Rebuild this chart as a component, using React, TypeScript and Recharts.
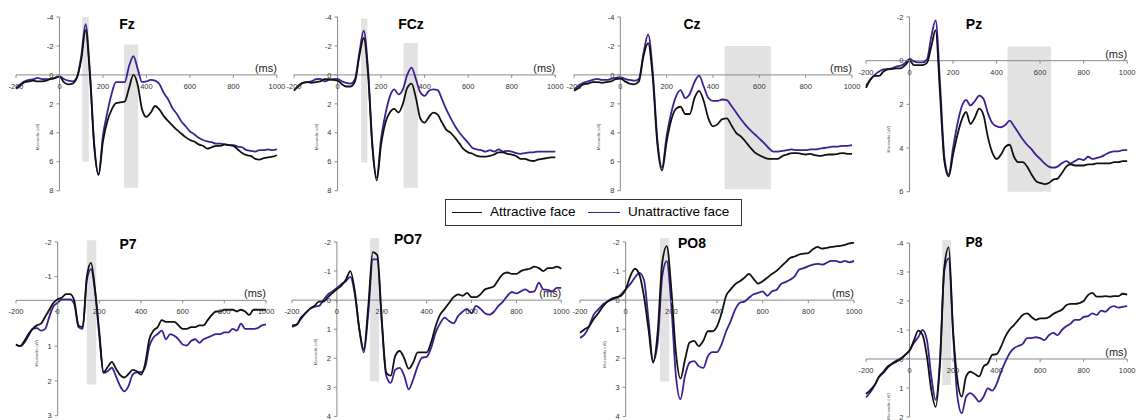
import React from 'react';
import { LineChart, Line, XAxis, YAxis, ReferenceArea, ReferenceLine } from 'recharts';

// time axis (ms), shared by every panel
const ms = [
  -200, -180, -160, -140, -120, -100, -80, -60, -40, -20,
  0, 20, 40, 60, 80, 100, 120, 140, 160, 180,
  200, 220, 240, 260, 280, 300, 320, 340, 360, 380,
  400, 420, 440, 460, 480, 500, 520, 540, 560, 580,
  600, 620, 640, 660, 680, 700, 720, 740, 760, 780,
  800, 820, 840, 860, 880, 900, 920, 940, 960, 980, 1000,
];

const xTicks = [-200, 0, 200, 400, 600, 800, 1000];

// amplitudes in microvolts, one value per ms step
const fzAttractive = [
  0.95, 0.75, 0.5, 0.45, 0.4, 0.45, 0.45, 0.4, 0.28, 0.2,
  0.1, 0.5, 0.65, 0.6, 0.2, -1.05, -3.1, 0.0, 5.0, 6.9,
  4.6, 3.2, 2.4, 1.95, 1.9, 1.85, 0.9, 0.0, 0.7, 2.4,
  2.9, 2.6, 2.15, 2.4, 2.85, 3.2, 3.5, 3.8, 4.05, 4.3,
  4.5, 4.6, 4.8, 4.9, 5.1, 5.0, 4.9, 4.9, 4.8, 4.85,
  4.9, 5.15, 5.4, 5.55, 5.6, 5.8, 5.85, 5.75, 5.7, 5.65, 5.55,
];
const fzUnattractive = [
  0.9, 0.65, 0.45, 0.35, 0.3, 0.2, 0.3, 0.3, 0.28, 0.22,
  0.1, 0.28, 0.4, 0.45, 0.2, -1.3, -3.5, -0.2, 4.8, 6.9,
  4.2, 2.6, 1.3, 0.5, 0.5, 0.5, -0.6, -1.3, -0.4, 0.5,
  0.45, 0.35, 0.4, 0.65, 1.25, 1.7, 2.3, 2.7, 3.2, 3.55,
  3.9, 4.1, 4.35, 4.5, 4.6, 4.65, 4.75, 4.75, 4.8, 4.85,
  4.85, 4.95, 5.0, 5.2, 5.25, 5.3, 5.2, 5.2, 5.15, 5.2, 5.15,
];

const fczAttractive = [
  1.05, 0.8, 0.55, 0.5, 0.55, 0.5, 0.45, 0.3, 0.3, 0.35,
  0.4, 0.65, 0.8, 0.8, 0.45, -1.3, -2.55, -0.1, 5.0, 7.3,
  4.8, 3.3, 2.6, 2.35, 2.6, 2.0, 0.9, 0.6, 1.6, 3.0,
  3.3, 2.9, 2.6, 2.75, 3.3, 3.8, 4.0, 4.35, 4.75, 5.15,
  5.35, 5.45, 5.6, 5.65, 5.65, 5.6, 5.5, 5.35, 5.35, 5.45,
  5.5, 5.6, 5.8, 5.8, 5.9, 5.95, 5.85, 5.8, 5.75, 5.7, 5.7,
];
const fczUnattractive = [
  1.1, 0.75, 0.55, 0.5, 0.45, 0.3, 0.28, 0.45, 0.35, 0.3,
  0.28, 0.45, 0.55, 0.6, 0.3, -1.5, -3.05, -0.4, 4.8, 7.1,
  4.4, 2.7, 1.5, 1.0, 1.35, 1.0, 0.0, -0.5, 0.3, 1.2,
  1.45, 1.1, 1.0, 1.05, 1.7, 2.4, 3.0, 3.55, 4.0, 4.35,
  4.7, 5.05, 5.15, 5.2, 5.3, 5.2, 5.3, 5.15, 5.3, 5.25,
  5.3, 5.4, 5.45, 5.4, 5.35, 5.35, 5.3, 5.3, 5.3, 5.3, 5.3,
];

const czAttractive = [
  1.1, 0.9, 0.65, 0.6, 0.5, 0.5, 0.55, 0.5, 0.45, 0.3,
  0.25, 0.45, 0.6, 0.65, 0.45, -1.3, -2.2, 0.2, 4.8, 6.6,
  4.6, 3.1, 2.35, 2.2, 2.7, 2.7, 1.6, 1.1, 1.8, 3.0,
  3.55, 3.4, 3.05, 3.0, 3.5, 4.0, 4.25, 4.6, 5.0, 5.35,
  5.55, 5.7, 5.8, 5.8, 5.8, 5.6, 5.5, 5.4, 5.4, 5.45,
  5.5, 5.45, 5.55, 5.6, 5.55, 5.5, 5.5, 5.45, 5.4, 5.45, 5.45,
];
const czUnattractive = [
  1.0, 0.75, 0.55, 0.45, 0.35, 0.28, 0.35, 0.35, 0.28, 0.2,
  0.15, 0.28, 0.35, 0.4, 0.28, -1.5, -2.8, -0.2, 4.5, 6.4,
  4.2, 2.6, 1.5, 1.05, 1.6, 1.3, 0.5, 0.05, 0.8, 1.6,
  1.8, 1.8, 1.7, 1.75, 2.15, 2.6, 3.05, 3.45, 3.8, 4.1,
  4.4, 4.7, 5.05, 5.3, 5.3, 5.25, 5.2, 5.15, 5.2, 5.2,
  5.2, 5.15, 5.15, 5.1, 5.05, 5.0, 4.95, 4.95, 4.9, 4.9, 4.85,
];

const pzAttractive = [
  1.25, 0.87, 0.7, 0.7, 0.5, 0.4, 0.38, 0.35, 0.35, 0.2,
  0.0, 0.2, 0.2, 0.2, 0.1, -0.65, -1.4, 1.5, 4.6, 5.3,
  4.3, 3.4, 2.7, 2.35, 2.9, 2.6, 2.2, 2.5, 3.5, 4.2,
  4.5, 4.3, 3.95, 3.85, 4.4, 4.65, 4.65, 4.85, 5.2, 5.5,
  5.6, 5.65, 5.6, 5.45, 5.4, 5.15, 4.85, 4.75, 4.8, 4.8,
  4.8, 4.75, 4.75, 4.7, 4.7, 4.7, 4.7, 4.65, 4.65, 4.6, 4.6,
];
const pzUnattractive = [
  1.15, 0.87, 0.65, 0.5, 0.4, 0.38, 0.35, 0.27, 0.23, 0.1,
  -0.08, 0.03, 0.08, 0.08, -0.05, -1.1, -1.85, 1.0, 4.4, 5.2,
  4.0, 2.9, 2.1, 1.8, 2.05, 1.85, 1.6, 1.75, 2.4, 2.85,
  3.0, 3.05, 2.95, 2.75, 3.0, 3.3, 3.6, 3.85, 4.05, 4.3,
  4.5, 4.7, 4.85, 4.9, 4.85, 4.7, 4.6, 4.7, 4.6, 4.5,
  4.55, 4.4, 4.5, 4.45, 4.4, 4.3, 4.2, 4.15, 4.15, 4.1, 4.1,
];

const p7Attractive = [
  0.95, 1.0, 0.85, 0.65, 0.5, 0.4, 0.35, 0.15, -0.05, -0.25,
  -0.35, -0.4, -0.5, -0.5, -0.3, 0.4, 0.45, -1.0, -1.4, -0.6,
  0.6, 1.75, 1.6, 1.45, 1.65, 1.83, 1.9, 1.8, 1.68, 1.72,
  1.82, 1.5, 0.8, 0.55, 0.45, 0.25, 0.3, 0.3, 0.3, 0.4,
  0.5, 0.5, 0.45, 0.45, 0.4, 0.4, 0.25, 0.1, 0.0, 0.0,
  -0.05, -0.05, -0.05, 0.0, -0.05, 0.0, 0.1, -0.05, -0.05, -0.05, -0.05,
];
const p7Unattractive = [
  0.95, 1.0, 0.9, 0.7, 0.5, 0.48, 0.55, 0.5, 0.15, -0.15,
  -0.25, -0.35, -0.35, -0.35, -0.2, 0.45, 0.5, -0.9, -1.22, -0.53,
  0.72, 1.77, 1.72, 1.62, 1.87, 2.15, 2.3, 2.15, 1.82, 1.75,
  1.75, 1.6, 1.0, 0.75, 0.65, 0.55, 0.8, 0.65, 0.7, 0.8,
  0.95, 0.98, 0.85, 0.8, 0.9, 0.8, 0.75, 0.7, 0.65, 0.65,
  0.6, 0.6, 0.5, 0.55, 0.35, 0.5, 0.5, 0.5, 0.48, 0.4, 0.38,
];

const po7Attractive = [
  0.87, 0.85, 0.6, 0.45, 0.3, 0.2, 0.05, 0.05, -0.1, -0.25,
  -0.37, -0.5, -0.7, -1.0, -0.3, 1.0, 1.7, 0.2, -1.65, -1.55,
  0.66, 2.5, 2.6, 1.92, 1.75, 2.0, 2.36, 2.15, 1.8, 1.8,
  1.8, 1.45, 0.9, 0.5, 0.3, 0.1, -0.1, -0.2, -0.15, -0.25,
  -0.1, -0.1, -0.2, -0.37, -0.42, -0.48, -0.7, -0.9, -0.95, -0.9,
  -0.9, -1.0, -1.05, -1.08, -1.15, -1.1, -1.0, -1.1, -1.1, -1.15, -1.08,
];
const po7Unattractive = [
  0.92, 0.85, 0.65, 0.45, 0.3, 0.22, 0.2, 0.0, -0.2, -0.3,
  -0.42, -0.55, -0.65, -0.8, -0.2, 1.0, 1.8, 0.45, -1.4, -1.4,
  0.78, 2.6, 2.85, 2.4, 2.33, 2.6, 3.07, 2.73, 2.27, 1.98,
  1.95, 1.64, 1.12, 0.8, 0.6, 0.72, 0.8, 0.55, 0.4, 0.3,
  0.45, 0.2, 0.3, 0.45, 0.5, 0.4, 0.2, 0.05, -0.15, -0.28,
  -0.23, -0.3, -0.37, -0.28, -0.3, -0.6, -0.37, -0.35, -0.3, -0.42, -0.42,
];

const po8Attractive = [
  1.12, 1.0, 0.9, 0.65, 0.45, 0.22, 0.05, -0.05, -0.1, -0.15,
  -0.37, -0.82, -1.08, -0.88, -0.14, 1.0, 2.15, 1.12, -1.28, -1.86,
  -0.37, 1.8, 2.7, 2.04, 1.46, 1.4, 1.58, 1.4, 1.07, 1.07,
  0.9, 0.45, -0.15, -0.37, -0.55, -0.65, -0.77, -0.9, -0.73, -0.57,
  -0.65, -0.77, -0.9, -1.0, -1.15, -1.3, -1.45, -1.5, -1.57, -1.6,
  -1.62, -1.75, -1.83, -1.77, -1.8, -1.83, -1.85, -1.87, -1.9, -1.95, -1.98,
];
const po8Unattractive = [
  1.3, 1.18, 0.9, 0.5, 0.32, 0.15, 0.05, -0.02, -0.08, -0.2,
  -0.37, -0.55, -0.77, -0.94, -0.7, 0.67, 2.1, 1.47, -0.82, -1.34,
  0.2, 2.6, 3.41, 2.6, 2.15, 2.1, 2.27, 2.33, 1.93, 1.79,
  1.79, 1.52, 1.07, 0.72, 0.32, 0.09, 0.05, -0.08, -0.2, -0.25,
  -0.3, -0.15, -0.3, -0.35, -0.55, -0.62, -0.7, -0.82, -1.05, -1.1,
  -1.17, -1.22, -1.25, -1.22, -1.28, -1.35, -1.35, -1.3, -1.35, -1.3, -1.35,
];

const p8Attractive = [
  1.2, 1.07, 0.9, 0.6, 0.44, 0.26, 0.17, 0.09, 0.0, -0.14,
  -0.29, -0.63, -0.98, -0.83, -0.08, 1.07, 1.65, 0.15, -3.18, -3.85,
  -1.0, 0.72, 1.3, 0.6, 0.44, 0.52, 0.6, 0.26, 0.15, -0.14,
  -0.17, -0.42, -0.77, -1.02, -1.17, -1.35, -1.52, -1.57, -1.45, -1.35,
  -1.4, -1.4, -1.44, -1.55, -1.63, -1.7, -1.85, -1.9, -1.9, -1.93,
  -2.0, -2.2, -2.28, -2.15, -2.15, -2.17, -2.15, -2.17, -2.17, -2.25, -2.22,
];
const p8Unattractive = [
  1.32, 1.15, 0.9, 0.62, 0.48, 0.3, 0.15, 0.05, -0.02, -0.14,
  -0.3, -0.55, -0.75, -1.0, -0.65, 0.6, 1.41, 0.03, -3.07, -3.47,
  -0.9, 1.3, 1.87, 1.3, 1.18, 1.3, 1.47, 1.3, 1.01, 1.09,
  0.86, 0.45, 0.1, -0.2, -0.37, -0.45, -0.52, -0.72, -0.72, -0.75,
  -0.72, -0.65, -0.82, -0.9, -0.82, -1.0, -1.13, -1.22, -1.35, -1.35,
  -1.45, -1.48, -1.57, -1.52, -1.67, -1.63, -1.77, -1.82, -1.77, -1.8, -1.82,
];

// grey analysis windows: [from ms, to ms, top uV, bottom uV]
const fzWindows = [[105, 135, -4, 6], [297, 362, -2.1, 7.8]];
const fczWindows = [[108, 137, -3.9, 6.05], [303, 369, -2.2, 7.8]];
const czWindows = [[450, 650, -2, 7.9]];
const pzWindows = [[450, 650, -0.65, 6]];
const p7Windows = [[140, 185, -2.05, 2.1]];
const po7Windows = [[148, 188, -2.15, 2.8]];
const po8Windows = [[150, 191, -2.15, 2.8]];
const p8Windows = [[150, 191, -4.1, 0.9]];

const BLACK = '#111111';
const PURPLE = '#3f1f92';
const AXIS = '#8a8a8a';
const FONT = '"Liberation Sans", Arial, sans-serif';

const panels = [
  { name: 'Fz', a: fzAttractive, u: fzUnattractive, yDomain: [-4, 8], yTicks: [-4, -2, 0, 2, 4, 6, 8], cross: 0, windows: fzWindows },
  { name: 'FCz', a: fczAttractive, u: fczUnattractive, yDomain: [-4, 8], yTicks: [-4, -2, 0, 2, 4, 6, 8], cross: 0, windows: fczWindows },
  { name: 'Cz', a: czAttractive, u: czUnattractive, yDomain: [-4, 8], yTicks: [-4, -2, 0, 2, 4, 6, 8], cross: 0, windows: czWindows },
  { name: 'Pz', a: pzAttractive, u: pzUnattractive, yDomain: [-2, 6], yTicks: [-2, 0, 2, 4, 6], cross: 0, windows: pzWindows },
  { name: 'P7', a: p7Attractive, u: p7Unattractive, yDomain: [-2, 3], yTicks: [-2, -1, 0, 1, 2, 3], cross: -0.32, windows: p7Windows },
  { name: 'PO7', a: po7Attractive, u: po7Unattractive, yDomain: [-2, 4], yTicks: [-2, -1, 0, 1, 2, 3, 4], cross: 0, windows: po7Windows },
  { name: 'PO8', a: po8Attractive, u: po8Unattractive, yDomain: [-2, 4], yTicks: [-2, -1, 0, 1, 2, 3, 4], cross: 0, windows: po8Windows },
  { name: 'P8', a: p8Attractive, u: p8Unattractive, yDomain: [-4, 2], yTicks: [-4, -3, -2, -1, 0, 1, 2], cross: 0, windows: p8Windows },
];

// page placement of each plot area (x of -200 / 1000 ms, y of domain ends), title centre, unit label height
const layouts = [
  { left: 15.8, right: 276.7, top: 17.3, bottom: 191, title: [127, 24], unit: 0.69 },
  { left: 294, right: 555.3, top: 17.3, bottom: 191, title: [411, 24], unit: 0.69 },
  { left: 574, right: 852, top: 17.3, bottom: 191, title: [692, 24], unit: 0.69 },
  { left: 865.5, right: 1126.7, top: 17.3, bottom: 192, title: [974, 24], unit: 0.7 },
  { left: 16, right: 266, top: 242.3, bottom: 416, title: [128, 244], unit: 0.64 },
  { left: 291.7, right: 561, top: 242.3, bottom: 416.7, title: [408, 239], unit: 0.63 },
  { left: 580, right: 854, top: 242.3, bottom: 416.7, title: [692, 243], unit: 0.645 },
  { left: 865.5, right: 1126.7, top: 242.7, bottom: 416.7, title: [974, 242], unit: 0.94 },
];

// chart margins around the plot area; the axes themselves take 1px each
const ML = 30;
const MR = 24;
const MT = 4;
const MB = 18;

function Panel({ p, l }: { p: any; l: any }) {
  const plotW = l.right - l.left;
  const plotH = l.bottom - l.top;
  const [y0, y1] = p.yDomain;
  const axisX = ML + (200 / 1200) * plotW;
  const crossY = MT + ((p.cross - y0) / (y1 - y0)) * plotH;
  const data = ms.map((t, i) => ({ t, a: p.a[i], u: p.u[i] }));

  const xTick = (props: any) => (
    <g>
      <line x1={props.x} x2={props.x} y1={crossY} y2={crossY + 3} stroke={AXIS} />
      <text x={props.x} y={crossY + 14} textAnchor="middle" fontSize={7.5} fill="#333" fontFamily={FONT}>
        {props.payload.value}
      </text>
    </g>
  );
  const yTick = (props: any) => (
    <g>
      <line x1={axisX - 3} x2={axisX} y1={props.y} y2={props.y} stroke={AXIS} />
      <text x={axisX - 6} y={props.y + 2.7} textAnchor="end" fontSize={7.5} fill="#333" fontFamily={FONT}>
        {props.payload.value}
      </text>
    </g>
  );
  const msLabel = (props: any) => {
    const vb = props.viewBox;
    return (
      <text x={vb.x + vb.width} y={vb.y - 3} textAnchor="end" fontSize={11} fill="#222" fontFamily={FONT}>
        (ms)
      </text>
    );
  };
  const unitLabel = (props: any) => {
    const vb = props.viewBox;
    const cx = vb.x - 20;
    const cy = vb.y + vb.height * l.unit;
    return (
      <text x={cx} y={cy} transform={`rotate(-90 ${cx} ${cy})`} textAnchor="middle" fontSize={4} fill="#444" fontFamily={FONT}>
        Microvolts (uV)
      </text>
    );
  };

  return (
    <div style={{ position: 'absolute', left: l.left - ML, top: l.top - MT }}>
      <LineChart
        width={plotW + ML + MR}
        height={plotH + MT + MB}
        data={data}
        margin={{ top: MT, right: MR, bottom: MB - 1, left: ML - 1 }}
      >
        <XAxis dataKey="t" type="number" domain={[-200, 1000]} ticks={xTicks} interval={0} height={1} axisLine={false} tickLine={false} tick={xTick} />
        <YAxis type="number" domain={p.yDomain} reversed ticks={p.yTicks} interval={0} width={1} axisLine={false} tickLine={false} tick={yTick} allowDataOverflow />
        {p.windows.map((w: number[], i: number) => (
          <ReferenceArea key={i} x1={w[0]} x2={w[1]} y1={w[2]} y2={w[3]} fill="#e2e2e2" fillOpacity={1} stroke="none" ifOverflow="visible" />
        ))}
        <ReferenceLine x={0} stroke={AXIS} strokeWidth={1} label={unitLabel} />
        <ReferenceLine y={p.cross} stroke={AXIS} strokeWidth={1} label={msLabel} />
        <Line type="monotone" dataKey="u" stroke={PURPLE} strokeWidth={1.8} dot={false} isAnimationActive={false} />
        <Line type="monotone" dataKey="a" stroke={BLACK} strokeWidth={1.8} dot={false} isAnimationActive={false} />
      </LineChart>
      <div
        style={{
          position: 'absolute',
          left: l.title[0] - l.left + ML,
          top: l.title[1] - l.top + MT,
          transform: 'translate(-50%, -50%)',
          fontFamily: FONT,
          fontWeight: 'bold',
          fontSize: 14,
          color: '#000',
          whiteSpace: 'nowrap',
        }}
      >
        {p.name}
      </div>
    </div>
  );
}

export default function App() {
  return (
    <div style={{ position: 'absolute', left: 0, top: 0, width: 1136, height: 420, background: '#fff', fontFamily: FONT, overflow: 'hidden' }}>
      {panels.map((p, i) => (
        <Panel key={p.name} p={p} l={layouts[i]} />
      ))}
      <div
        style={{
          position: 'absolute',
          left: 445,
          top: 199,
          width: 297,
          height: 27,
          boxSizing: 'border-box',
          border: '1px solid #333',
          background: '#fff',
          fontSize: 13.5,
          color: '#000',
        }}
      >
        <div style={{ position: 'absolute', left: 6, top: 12, width: 30, borderTop: `1.5px solid ${BLACK}` }} />
        <div style={{ position: 'absolute', left: 44, top: 4, whiteSpace: 'nowrap' }}>Attractive face</div>
        <div style={{ position: 'absolute', left: 142, top: 12, width: 32, borderTop: `1.5px solid ${PURPLE}` }} />
        <div style={{ position: 'absolute', left: 182, top: 4, whiteSpace: 'nowrap' }}>Unattractive face</div>
      </div>
    </div>
  );
}
